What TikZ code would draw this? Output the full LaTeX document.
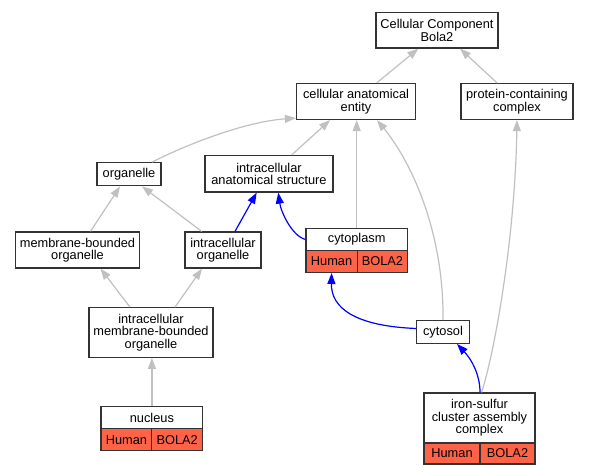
\documentclass[tikz,border=0pt]{standalone}
\usepackage{fontspec}
\setmainfont{Liberation Sans}
\usetikzlibrary{arrows.meta}
\definecolor{tomato}{RGB}{255,99,71}
\definecolor{edgegray}{RGB}{192,192,192}

\begin{document}
\begin{tikzpicture}[x=1pt, y=-1pt,
  term/.style={draw=black!80, line width=1.2pt, fill=white, align=center, inner sep=0pt,
    font=\fontsize{12.8}{12.6}\selectfont},
  cell/.style={term, fill=tomato, minimum height=22pt},
  isa/.style={draw=edgegray, line width=1.2pt, -{Triangle[length=11pt,width=8pt]}},
  partof/.style={draw=blue, line width=1.2pt, -{Triangle[length=11pt,width=8pt]}}]
\useasboundingbox (0,0) rectangle (589,475);

% terms
\node[term, minimum width=122pt, minimum height=35.5pt] (cc) at (437,30.3) {Cellular Component\\Bola2};
\node[term, minimum width=119pt, minimum height=36pt] (cae) at (356,101.5) {cellular anatomical\\entity};
\node[term, minimum width=112pt, minimum height=36pt] (pcc) at (517,101.5) {protein-containing\\complex};
\node[term, minimum width=64pt, minimum height=23pt] (org) at (129,174.3) {organelle};
\node[term, minimum width=128pt, minimum height=36.5pt] (ias) at (269,173.8) {intracellular\\anatomical structure};
\node[term, minimum width=124pt, minimum height=36pt] (mbo) at (77.5,250) {membrane-bounded\\organelle};
\node[term, minimum width=76pt, minimum height=36pt] (io) at (223,250) {intracellular\\organelle};
\node[term, minimum width=124pt, minimum height=49.6pt] (imbo) at (151,332.5) {intracellular\\membrane-bounded\\organelle};
\node[term, minimum width=52.5pt, minimum height=22.6pt] (cytosol) at (443,332) {cytosol};

% annotated terms
\node[term, minimum width=101.5pt, minimum height=22pt] (cyto) at (356.7,239.4) {cytoplasm};
\node[cell, minimum width=51.3pt] (cytoH) at (331.6,261.4) {Human};
\node[cell, minimum width=50.2pt] (cytoB) at (382.4,261.4) {BOLA2};

\node[term, minimum width=101.7pt, minimum height=22.3pt] (nuc) at (151.9,417.8) {nucleus};
\node[cell, minimum width=50.7pt] (nucH) at (126.4,439.8) {Human};
\node[cell, minimum width=51pt] (nucB) at (177.2,439.8) {BOLA2};

\node[term, minimum width=111pt, minimum height=50pt] (isc) at (479.5,418) {iron-sulfur\\cluster assembly\\complex};
\node[cell, minimum width=56pt, minimum height=21pt] (iscH) at (452,453.5) {Human};
\node[cell, minimum width=55pt, minimum height=21pt] (iscB) at (507.5,453.5) {BOLA2};

% is_a
\draw[isa] ([xshift=20.7pt]cae.north) -- ([xshift=-18.7pt]cc.south);
\draw[isa] ([xshift=-20pt]pcc.north) -- ([xshift=23pt]cc.south);
\draw[isa] ([xshift=23pt]org.north) .. controls (175,150) and (240,122) .. ([yshift=2pt]cae.south west);
\draw[isa] ([xshift=22.7pt]ias.north) -- ([xshift=-26pt]cae.south);
\draw[isa] (cyto.north) -- (cyto.north |- cae.south);
\draw[isa] (cytosol.north) .. controls (444,230) and (410,160) .. ([xshift=21pt]cae.south);
\draw[isa] ([xshift=2pt]isc.north) .. controls (494,355) and (515,240) .. (pcc.south);
\draw[isa] ([xshift=13pt]mbo.north) -- ([xshift=-9pt]org.south);
\draw[isa] ([xshift=-21.3pt]io.north) -- ([xshift=13pt]org.south);
\draw[isa] ([xshift=-21pt]imbo.north) -- ([xshift=23pt]mbo.south);
\draw[isa] ([xshift=24pt]imbo.north) -- ([xshift=-21pt]io.south);
\draw[isa] (nuc.north) -- (nuc.north |- imbo.south);

% part_of
\draw[partof] ([xshift=12pt]io.north) -- ([xshift=-12.3pt]ias.south);
\draw[partof] (cyto.west) .. controls (292,236) and (281,212) .. ([xshift=9.3pt]ias.south);
\draw[partof] ([yshift=3.5pt]cytosol.west) .. controls (355,326) and (331,308) .. (cytoH.south);
\draw[partof] ([xshift=0.5pt]isc.north) .. controls (480,375) and (472,360) .. ([xshift=14pt]cytosol.south);
\end{tikzpicture}
\end{document}
